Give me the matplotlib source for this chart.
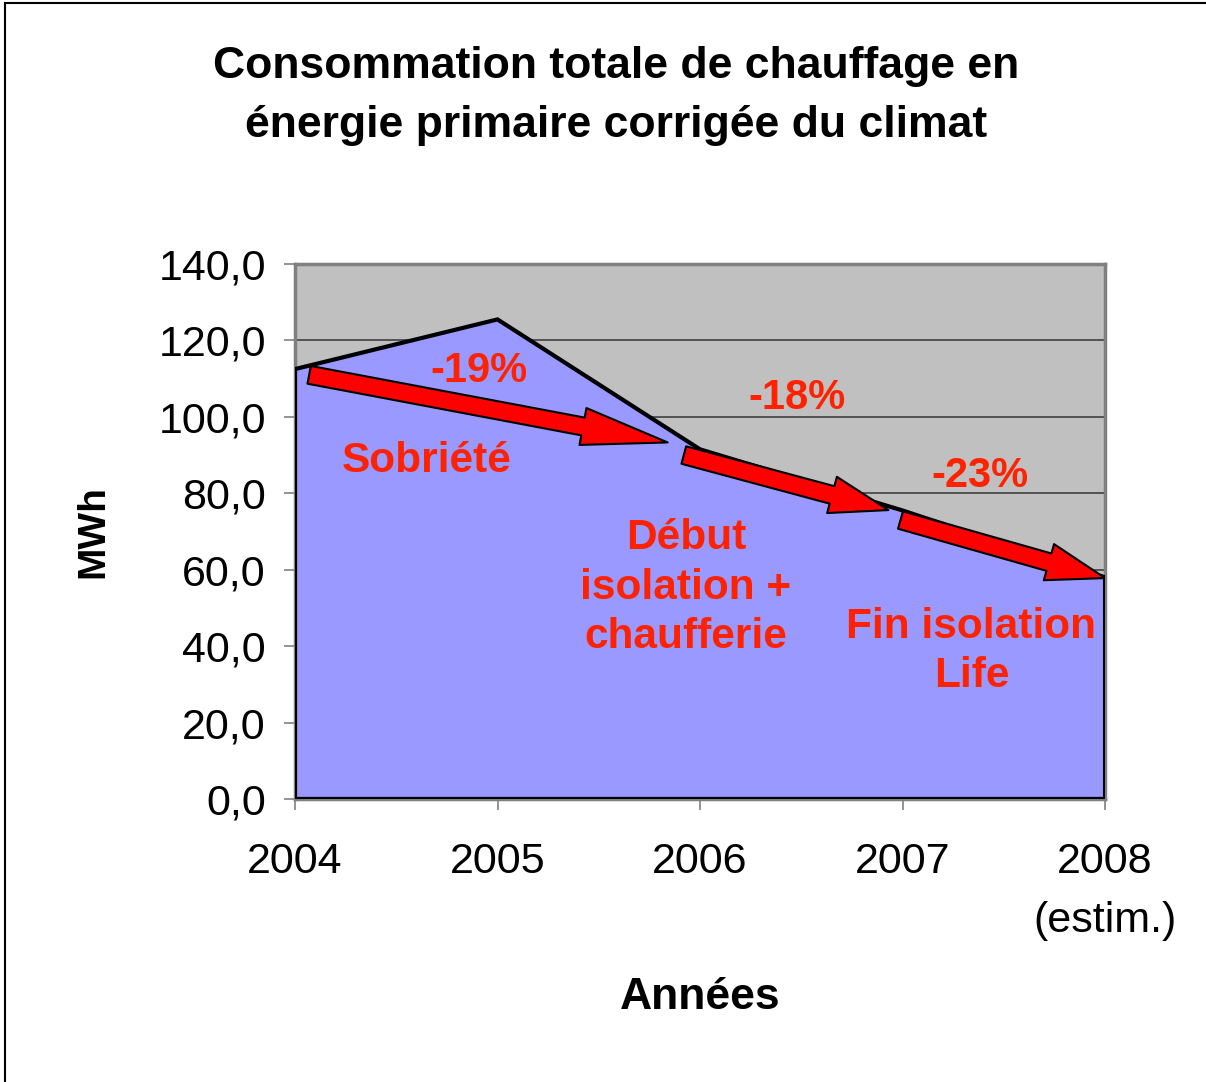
import matplotlib
matplotlib.use("Agg")
import matplotlib.pyplot as plt
from matplotlib.patches import FancyArrowPatch
from matplotlib.lines import Line2D

plt.rcParams['font.family'] = ['Liberation Sans', 'DejaVu Sans']

# data
years = [2004, 2005, 2006, 2007, 2008]
year_labels = ['2004', '2005', '2006', '2007', '2008\n(estim.)']
mwh = [112.5, 125.5, 91.5, 75.5, 58.0]
y_ticks = [0, 20, 40, 60, 80, 100, 120, 140]

# arrows (start, end, head length) and annotations
arrows = [((2004.07, 111.0), (2005.84, 93.3), 62),
          ((2005.92, 90.0), (2006.93, 75.6), 42),
          ((2006.99, 73.0), (2008.0, 57.8), 42)]
pct_labels = [(2004.91, 112.0, '-19%'), (2006.48, 105.0, '-18%'), (2007.38, 84.5, '-23%')]
phase_labels = [(2004.65, 88.5, 'Sobriété'),
                (2005.93, 55.3, 'Début\nisolation +\nchaufferie'),
                (2007.34, 38.5, 'Fin isolation\nLife')]

red_txt = '#ff2200'

fig = plt.figure(figsize=(12.06, 10.82), dpi=100)
ax = fig.add_axes([0.2446, 0.2616, 0.9163 - 0.2446, 0.756 - 0.2616])

ax.set_facecolor('#c0c0c0')
ax.fill_between(years, mwh, 0, facecolor='#9999ff', edgecolor='none', zorder=2)
ax.plot(years + [2008, 2004, 2004], mwh + [0, 0, mwh[0]], color='black', lw=3, zorder=3,
        solid_joinstyle='miter')

ax.set_xlim(2004, 2008)
ax.set_ylim(0, 140)
ax.set_yticks(y_ticks)
ax.set_yticklabels(['{:.1f}'.format(v).replace('.', ',') for v in y_ticks])
ax.set_xticks(years)
ax.set_xticklabels(year_labels, linespacing=1.6)
ax.grid(axis='y', color='#404040', lw=1.2, zorder=1)
ax.set_axisbelow(True)

for s in ['top', 'right', 'left', 'bottom']:
    ax.spines[s].set_color('#808080')
    ax.spines[s].set_linewidth(2.5)

ax.tick_params(axis='both', labelsize=31, length=8, width=1.2, color='#808080', direction='out')
ax.tick_params(axis='y', pad=13)
ax.tick_params(axis='x', pad=23)

for (p0, p1, hl) in arrows:
    arr = FancyArrowPatch(p0, p1, arrowstyle='simple,head_width=2.7,head_length={},tail_width=1.3'.format(hl / 10),
                          mutation_scale=10, facecolor='red', edgecolor='black', lw=1.5,
                          shrinkA=0, shrinkB=0, zorder=5)
    ax.add_patch(arr)

for x, y, t in pct_labels:
    ax.text(x, y, t, color=red_txt, fontsize=30, fontweight='bold', ha='center', va='center', zorder=6)
for x, y, t in phase_labels:
    ax.text(x, y, t, color=red_txt, fontsize=30.5, fontweight='bold', ha='center', va='center',
            linespacing=1.3, zorder=6)

ax.set_ylabel('MWh', fontsize=28, fontweight='bold', labelpad=34)
ax.set_xlabel('Années', fontsize=32, fontweight='bold', labelpad=26)

fig.text(0.511, 0.911, 'Consommation totale de chauffage en\nénergie primaire corrigée du climat',
         fontsize=32, fontweight='bold', ha='center', va='center', linespacing=1.55)

# outer chart frame (only left and top edges are visible)
fig.add_artist(Line2D([0.004, 0.004], [0.0, 0.997], color='black', lw=1.5, transform=fig.transFigure))
fig.add_artist(Line2D([0.004, 1.0], [0.997, 0.997], color='black', lw=1.5, transform=fig.transFigure))

fig.savefig('out.png', dpi=100)
